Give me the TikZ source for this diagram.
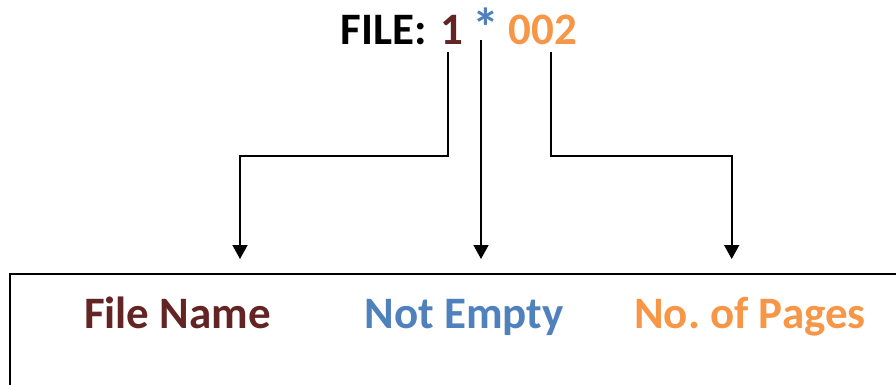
\documentclass[tikz,border=0pt]{standalone}
\usepackage{fontspec}
\setmainfont{Carlito}
\usetikzlibrary{arrows.meta}
\definecolor{fname}{RGB}{99,37,35}
\definecolor{nempty}{RGB}{79,129,189}
\definecolor{npages}{RGB}{247,150,70}
\tikzset{
  txt/.style={anchor=base, inner sep=0pt, font=\fontsize{45}{54}\selectfont\bfseries},
  conn/.style={line width=1.6pt, -{Triangle[width=15pt,length=14pt]}},
  framebox/.style={draw, line width=2.2pt, inner sep=0pt, anchor=north west}
}
\frenchspacing
\begin{document}
\begin{tikzpicture}[x=1pt, y=-1pt]
\useasboundingbox (0,0) rectangle (896,385);
\clip (0,0) rectangle (896,385);
% title
\node[txt] (lbl) at (384,45) {FILE:};
\node[txt, text=fname] (t1) at (451.7,45) {1};
\node[txt, text=nempty, scale=1.2] (ast) at (485.8,47) {*};
\node[txt, text=npages] (pg) at (543,45) {002};
% box
\node[framebox, minimum width=920pt, minimum height=140pt] (box) at (9,273) {};
\node[txt, text=fname] (fn) at (177.5,328) {File Name};
\node[txt, text=nempty] (ne) at (464,328) {Not Empty};
\node[txt, text=npages] (np) at (750,328) {No. of Pages};
% arrow ends
\coordinate (a1) at (240,259);
\coordinate (a2) at (481,259);
\coordinate (a3) at (731.7,259);
% connectors
\draw[conn] ([xshift=-3.7pt,yshift=-7pt]t1.base) -- ++(0,104) -| (a1);
\draw[conn] ([xshift=-4.8pt,yshift=7pt]ast.base) -- (a2);
\draw[conn] ([xshift=7.7pt,yshift=-7pt]pg.base) -- ++(0,104) -| (a3);
\end{tikzpicture}
\end{document}
